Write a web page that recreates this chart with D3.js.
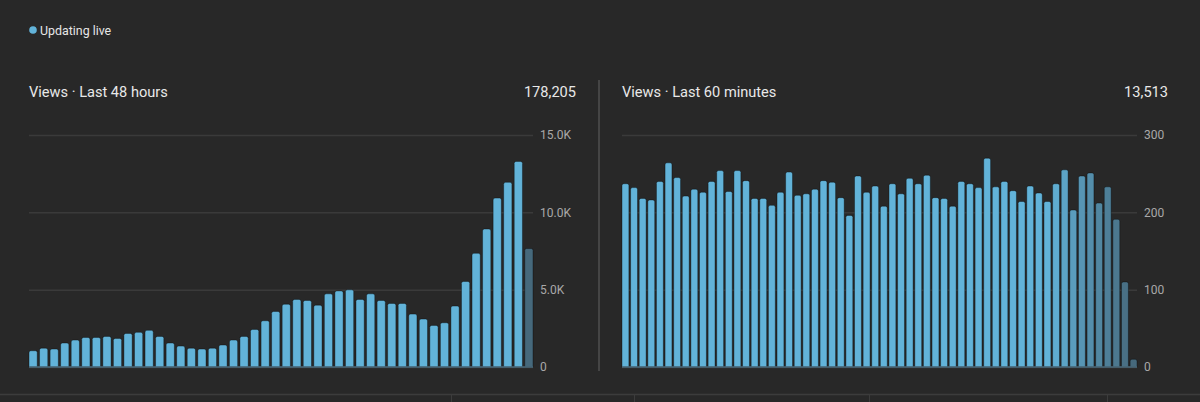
<!DOCTYPE html>
<html>
<head>
<meta charset="utf-8">
<script src="https://cdn.jsdelivr.net/npm/d3@7"></script>
<style>
  body { margin: 0; background: #282828; }
  svg { display: block; font-family: Roboto, "Noto Sans", sans-serif; }
</style>
</head>
<body>
<svg id="chart" width="1200" height="402"></svg>
<script>
// views per hour, last 48 hours (last one is the current, partial hour)
const hourViews = [1050, 1220, 1160, 1550, 1740, 1910, 1910, 1980, 1850, 2170, 2240, 2370,
  1980, 1550, 1350, 1220, 1160, 1220, 1420, 1740, 1980, 2430, 2990, 3590,
  4060, 4370, 4300, 4000, 4730, 4920, 4990, 4370, 4730, 4300, 4110, 4110,
  3420, 3100, 2690, 2860, 3940, 5530, 7350, 8920, 10920, 11940, 13290, 7660];
const hourTicks = [0, 5000, 10000, 15000];
const hourTotal = "178,205";

// views per minute, last 60 minutes
const minuteViews = [237, 232, 218, 216, 240, 264, 245, 221, 230, 226, 240, 254,
  227, 254, 241, 218, 218, 209, 226, 252, 222, 224, 230, 241,
  239, 219, 196, 247, 226, 234, 208, 237, 224, 244, 237, 248,
  219, 218, 208, 240, 237, 232, 270, 233, 240, 228, 214, 234,
  225, 214, 237, 255, 203, 247, 251, 212, 233, 191, 110, 10];
const minuteTicks = [0, 100, 200, 300];
const minuteTotal = "13,513";

const svg = d3.select("#chart");
const barColor = "#62b3d9";
const fadeColor = "#46697c";

// live badge
svg.append("circle").attr("cx", 33).attr("cy", 30).attr("r", 3.8).attr("fill", barColor);
svg.append("text").attr("x", 40).attr("y", 34.5)
  .attr("fill", "#e6e6e6").attr("font-size", 12.4).text("Updating live");

// divider between the two panels
svg.append("line").attr("x1", 599).attr("x2", 599).attr("y1", 80).attr("y2", 371)
  .attr("stroke", "#454545").attr("stroke-width", 2);

// bottom strip
svg.append("line").attr("x1", 0).attr("x2", 1200).attr("y1", 394.5).attr("y2", 394.5)
  .attr("stroke", "#3c3c3c").attr("stroke-width", 1.5);
[451, 634, 869, 1107].forEach(x => {
  svg.append("line").attr("x1", x + 0.5).attr("x2", x + 0.5).attr("y1", 395).attr("y2", 402)
    .attr("stroke", "#3c3c3c");
});

function panel(opts) {
  const g = svg.append("g");
  const y = d3.scaleLinear()
    .domain([0, opts.ticks[opts.ticks.length - 1]])
    .range([367, 135]);

  const x = d3.scaleBand()
    .domain(d3.range(opts.values.length))
    .range([opts.left, opts.right])
    .paddingInner(opts.pad)
    .paddingOuter(0);

  // title and total
  g.append("text").attr("x", opts.left).attr("y", 97)
    .attr("fill", "#e8e8e8").attr("font-size", 14.6).text(opts.title);
  g.append("text").attr("x", opts.totalX).attr("y", 97).attr("text-anchor", "end")
    .attr("fill", "#e8e8e8").attr("font-size", 14.6).text(opts.total);

  // grid + labels
  const axis = d3.axisRight(y)
    .tickValues(opts.ticks)
    .tickSizeInner(-(opts.right - opts.left))
    .tickSizeOuter(0)
    .tickPadding(7)
    .tickFormat(opts.fmt);
  const ag = g.append("g").attr("transform", `translate(${opts.right},0)`).call(axis);
  ag.select(".domain").remove();
  ag.selectAll(".tick line").attr("stroke", "#3a3a3a").attr("stroke-width", 1.5);
  ag.selectAll(".tick text").attr("fill", "#a8a8a8").attr("font-size", 12)
    .attr("font-family", "Roboto, sans-serif");

  // bars
  const n = opts.values.length;
  g.append("g").selectAll("path")
    .data(opts.values)
    .join("path")
    .attr("d", (d, i) => {
      const x0 = x(i), w = x.bandwidth(), y0 = y(d), y1 = y(0), r = 1.8;
      return `M${x0},${y1}V${y0 + r}Q${x0},${y0} ${x0 + r},${y0}H${x0 + w - r}Q${x0 + w},${y0} ${x0 + w},${y0 + r}V${y1}Z`;
    })
    .attr("fill", (d, i) => opts.color(i, n))
    .attr("stroke", "rgba(0,0,0,0.35)")
    .attr("stroke-width", 1);

  // baseline
  g.append("line").attr("x1", opts.left).attr("x2", opts.right)
    .attr("y1", y(0)).attr("y2", y(0))
    .attr("stroke", "#4b6b7c").attr("stroke-width", 1.5);
}

panel({
  values: hourViews, ticks: hourTicks, total: hourTotal,
  title: "Views · Last 48 hours",
  left: 29, right: 533, pad: 0.22, totalX: 576,
  fmt: d => d === 0 ? "0" : (d / 1000).toFixed(1) + "K",
  color: (i, n) => i === n - 1 ? fadeColor : barColor
});

const fade = d3.interpolateRgb(barColor, fadeColor);
panel({
  values: minuteViews, ticks: minuteTicks, total: minuteTotal,
  title: "Views · Last 60 minutes",
  left: 622, right: 1137, pad: 0.2, totalX: 1168,
  fmt: d3.format("d"),
  color: (i, n) => {
    const start = n - 10;
    return i < start ? barColor : fade((i - start + 1) / 10);
  }
});
</script>
</body>
</html>
